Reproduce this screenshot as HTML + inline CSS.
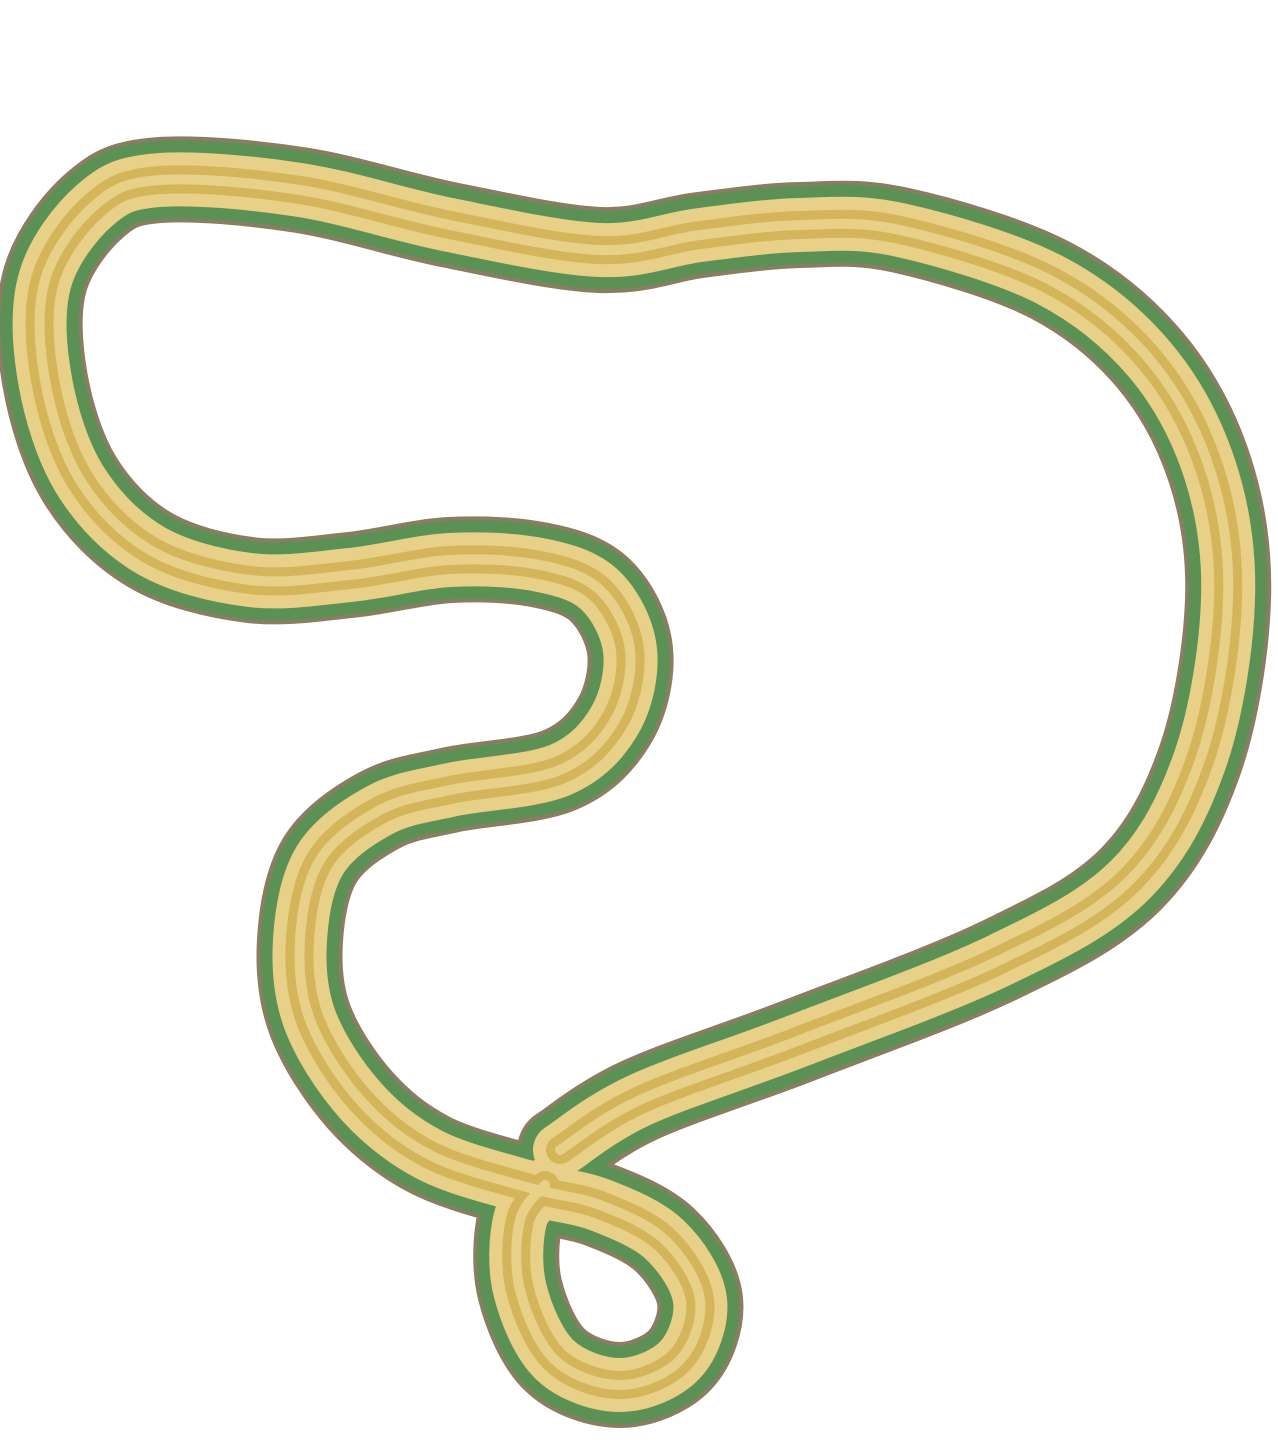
<!DOCTYPE html>
<html><head><meta charset="utf-8"><style>html,body{margin:0;padding:0;background:#fff}svg{display:block}</style></head>
<body>
<svg id="s" width="1278" height="1444" viewBox="0 0 1278 1444"></svg>
<script>
const xs=[560,640,800,1000,1130,1200,1228,1210,1150,1050,900,800,700,600,450,300,160,95,45,45,80,150,250,350,450,540,600,630,615,560,450,380,320,300,310,360,430,530,600,665,700,680,620,555,520,520,545];
const ys=[1150,1100,1040,960,880,760,600,470,360,280,230,225,235,250,225,190,180,205,280,380,480,550,580,575,560,565,590,650,720,770,790,810,860,940,1020,1100,1155,1188,1205,1240,1300,1360,1385,1360,1290,1220,1185];
function pathD(){let p=xs.map((x,i)=>[x,ys[i]]);let d=`M${p[0][0]},${p[0][1]}`;
for(let i=0;i<p.length-1;i++){const a=p[Math.max(i-1,0)],b=p[i],c=p[i+1],e=p[Math.min(i+2,p.length-1)];
d+=` C${b[0]+(c[0]-a[0])/6},${b[1]+(c[1]-a[1])/6} ${c[0]-(e[0]-b[0])/6},${c[1]-(e[1]-b[1])/6} ${c[0]},${c[1]}`;}return d;}
const svg=document.getElementById('s');const d=pathD();
const layers=[['filament-outline','#8a7d62',86],['filament-membrane','#5b9155',78],['filament-capsid','#e8d088',54],['filament-core-stripe','#d4b55a',28],['filament-core','#e8d088',10]];
for(const [n,c,w] of layers){const el=document.createElementNS('http://www.w3.org/2000/svg','path');
el.setAttribute('d',d);el.setAttribute('fill','none');el.setAttribute('stroke',c);el.setAttribute('stroke-width',w);el.setAttribute('stroke-linecap','round');el.setAttribute('stroke-linejoin','round');


svg.appendChild(el);}
</script>
</body></html>
